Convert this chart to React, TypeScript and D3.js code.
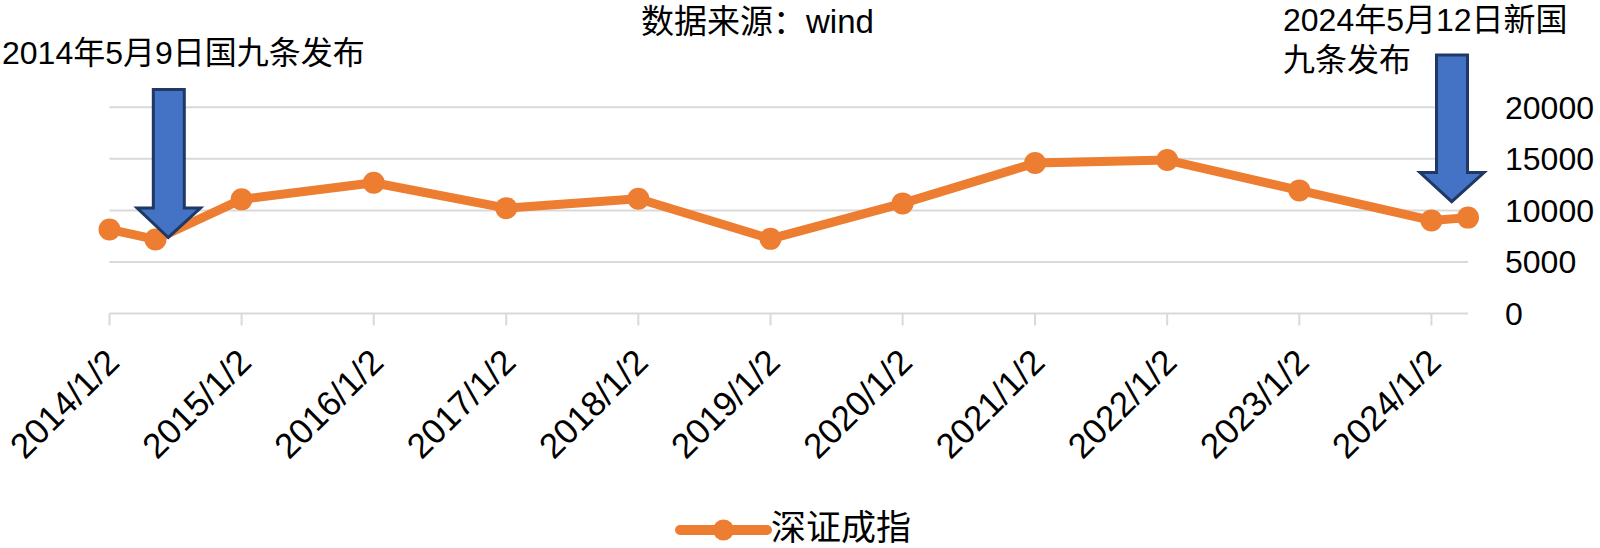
import React from "react";
import * as d3 from "d3";

const dates = [
  "2014-01-02", "2014-05-09", "2015-01-02", "2016-01-02", "2017-01-02", "2018-01-02",
  "2019-01-02", "2020-01-02", "2021-01-02", "2022-01-02", "2023-01-02", "2024-01-02", "2024-04-12",
];
const values = [8150, 7180, 11070, 12680, 10220, 11130, 7240, 10680, 14590, 14885, 11940, 9030, 9300];
const tickDates = [
  "2014-01-02", "2015-01-02", "2016-01-02", "2017-01-02", "2018-01-02", "2019-01-02",
  "2020-01-02", "2021-01-02", "2022-01-02", "2023-01-02", "2024-01-02",
];
const tickLabels = [
  "2014/1/2", "2015/1/2", "2016/1/2", "2017/1/2", "2018/1/2", "2019/1/2",
  "2020/1/2", "2021/1/2", "2022/1/2", "2023/1/2", "2024/1/2",
];
const yTicks = [0, 5000, 10000, 15000, 20000];
const seriesName = "深证成指";
const titleText = "数据来源：wind";
const leftNote = ["2014年5月9日国九条发布"];
const rightNote = ["2024年5月12日新国", "九条发布"];

const parse = d3.timeParse("%Y-%m-%d");

const W = 1600;
const H = 548;
const plotLeft = 109.5;
const plotRight = 1468;
const plotTop = 107.3;
const plotBottom = 313.5;

const ORANGE = "#ED7D31";
const GRID = "#D9D9D9";
const CJK = "'Liberation Sans', 'Noto Sans CJK SC', sans-serif";

function arrowPath(cx: number, top: number, headY: number, tipX: number, tipY: number, shaftHalf: number, headHalf: number) {
  const p = d3.path();
  p.moveTo(cx - shaftHalf, top);
  p.lineTo(cx + shaftHalf, top);
  p.lineTo(cx + shaftHalf, headY);
  p.lineTo(cx + headHalf, headY);
  p.lineTo(tipX, tipY);
  p.lineTo(cx - headHalf, headY);
  p.lineTo(cx - shaftHalf, headY);
  p.closePath();
  return p.toString();
}

export default function App() {
  const parsed = dates.map((d) => parse(d) as Date);
  const x = d3
    .scaleTime()
    .domain([parsed[0], parsed[parsed.length - 1]])
    .range([plotLeft, plotRight]);
  const y = d3.scaleLinear().domain([0, 20000]).range([plotBottom, plotTop]);

  const pts = parsed.map((d, i) => [x(d), y(values[i])] as [number, number]);
  const line = d3.line<[number, number]>()(pts) || "";

  // arrows anchored on event points
  const ev1 = pts[1];
  const ev2 = pts[pts.length - 1];
  const a1tipX = ev1[0] + 12.8;
  const a1tipY = ev1[1] - 2;
  const a2tipX = ev2[0] - 16.3;
  const a2tipY = ev2[1] - 16;

  return (
    <svg width={W} height={H} style={{ position: "absolute", left: 0, top: 0, background: "#fff" }}>
      <rect x={0} y={0} width={W} height={H} fill="#fff" />
      {yTicks.map((t) => (
        <line key={"g" + t} x1={plotLeft} x2={plotRight} y1={y(t)} y2={y(t)} stroke={GRID} strokeWidth={2} />
      ))}
      {tickDates.map((d, i) => {
        const tx = x(parse(d) as Date);
        return (
          <g key={"t" + i}>
            <line x1={tx} x2={tx} y1={plotBottom} y2={plotBottom + 12} stroke={GRID} strokeWidth={2} />
            <text
              transform={`translate(${tx + 3},${plotBottom + 42}) rotate(-45)`}
              textAnchor="end"
              dy="0.35em"
              fontFamily={CJK}
              fontSize={35}
              fill="#000"
            >
              {tickLabels[i]}
            </text>
          </g>
        );
      })}
      {yTicks.map((t) => (
        <text key={"y" + t} x={1505} y={y(t)} dy="0.35em" fontFamily={CJK} fontSize={32} fill="#000">
          {t}
        </text>
      ))}
      <path d={line} fill="none" stroke={ORANGE} strokeWidth={9} strokeLinejoin="round" strokeLinecap="round" />
      {pts.map((p, i) => (
        <circle key={"c" + i} cx={p[0]} cy={p[1]} r={11} fill={ORANGE} />
      ))}
      <path
        d={arrowPath(168.8, 89.5, 208, a1tipX, a1tipY, 15.5, 31.7)}
        fill="#4472C4"
        stroke="#1F3864"
        strokeWidth={3}
      />
      <path
        d={arrowPath(1452, 55, 172.5, a2tipX, a2tipY, 15.5, 32)}
        fill="#4472C4"
        stroke="#1F3864"
        strokeWidth={3}
      />
      <text x={641} y={33} fontFamily={CJK} fontSize={33} fill="#000">
        {titleText}
      </text>
      {leftNote.map((s, i) => (
        <text key={"ln" + i} x={2} y={64 + i * 40} fontFamily={CJK} fontSize={32} fill="#000">
          {s}
        </text>
      ))}
      {rightNote.map((s, i) => (
        <text key={"rn" + i} x={1283} y={31 + i * 40} fontFamily={CJK} fontSize={32} fill="#000">
          {s}
        </text>
      ))}
      <g>
        <line x1={680} x2={767} y1={530} y2={530} stroke={ORANGE} strokeWidth={10} strokeLinecap="round" />
        <circle cx={723.5} cy={530} r={10.5} fill={ORANGE} />
        <text x={771} y={540} fontFamily={CJK} fontSize={35} fill="#000">
          {seriesName}
        </text>
      </g>
    </svg>
  );
}
